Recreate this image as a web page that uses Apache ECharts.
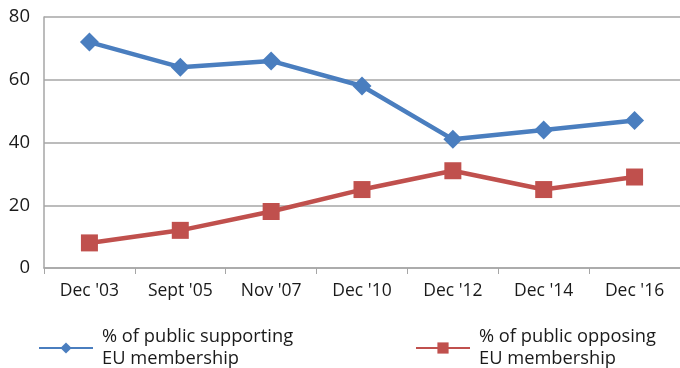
<!DOCTYPE html>
<html><head><meta charset="utf-8">
<script src="https://cdn.jsdelivr.net/npm/echarts@6/dist/echarts.min.js"></script>
<style>html,body{margin:0;padding:0;background:#fff}#c{width:680px;height:368px}</style>
</head><body><div id="c"></div>
<script>
const categories = ["Dec '03", "Sept '05", "Nov '07", "Dec '10", "Dec '12", "Dec '14", "Dec '16"];
const supporting = [72, 64, 66, 58, 41, 44, 47];
const opposing = [8, 12, 18, 25, 31, 25, 29];
const nameSupport = "% of public supporting\nEU membership";
const nameOppose = "% of public opposing\nEU membership";
const font = "'Open Sans', sans-serif";
const chart = echarts.init(document.getElementById('c'));
const legendText = {fontSize: 18.3, fontFamily: font, color: '#1a1a1a', lineHeight: 22,
  verticalAlign: 'top', padding: [-11, 0, 0, 4]};
chart.setOption({
  animation: false,
  grid: {left: 44, top: 17, width: 637, height: 251, containLabel: false},
  xAxis: {
    type: 'category', data: categories, boundaryGap: true,
    axisLine: {lineStyle: {color: '#a6a6a6', width: 1.5}},
    axisTick: {show: true, length: 6, lineStyle: {color: '#a6a6a6'}},
    axisLabel: {color: '#1a1a1a', fontSize: 17.5, fontFamily: font, margin: 14}
  },
  yAxis: {
    type: 'value', min: 0, max: 80, interval: 20,
    axisLine: {show: true, lineStyle: {color: '#a6a6a6', width: 1.5}},
    axisTick: {show: false},
    splitLine: {lineStyle: {color: '#a6a6a6', width: 1.5}},
    axisLabel: {color: '#1a1a1a', fontSize: 18.5, fontFamily: font, margin: 14}
  },
  legend: [
    {left: 38, top: 328, itemWidth: 54, itemHeight: 14, itemGap: 12, padding: 0,
     data: [nameSupport], textStyle: legendText},
    {left: 415, top: 328, itemWidth: 54, itemHeight: 14, itemGap: 12, padding: 0,
     data: [nameOppose], textStyle: legendText}
  ],
  series: [
    {name: nameSupport, type: 'line', data: supporting, symbol: 'diamond', symbolSize: 19,
     lineStyle: {color: '#4a7ebf', width: 4.5}, itemStyle: {color: '#4a7ebf'}},
    {name: nameOppose, type: 'line', data: opposing, symbol: 'rect', symbolSize: 17,
     lineStyle: {color: '#c0504d', width: 4.5}, itemStyle: {color: '#c0504d'}}
  ]
});
</script></body></html>
